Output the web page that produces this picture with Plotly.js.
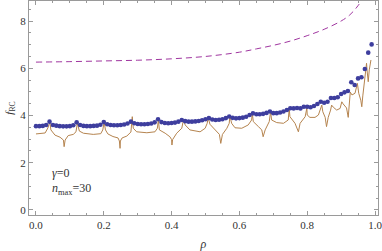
<!DOCTYPE html>
<html>
<head>
<meta charset="utf-8">
<script src="https://cdn.plot.ly/plotly-3.0.1.min.js"></script>
<style>html,body{margin:0;padding:0;background:#fff;}#plot{width:382px;height:251px;}</style>
</head>
<body>
<div id="plot"></div>
<script>
// Blue dots: rho = 0.00 ... 0.99
const dotRho = Array.from({length: 100}, (_, i) => +(i / 100).toFixed(2));
const dotF = [
  3.55,3.55,3.56,3.60,3.74,3.60,3.57,3.55,3.54,3.54,
  3.55,3.59,3.71,3.60,3.56,3.55,3.55,3.56,3.57,3.61,
  3.72,3.63,3.60,3.59,3.59,3.60,3.62,3.66,3.74,3.67,
  3.64,3.63,3.63,3.64,3.66,3.71,3.84,3.72,3.68,3.67,
  3.68,3.70,3.74,3.81,3.76,3.74,3.74,3.75,3.77,3.80,
  3.84,3.89,3.83,3.81,3.82,3.84,3.89,3.96,3.90,3.88,
  3.89,3.91,3.95,4.02,4.09,4.05,4.05,4.07,4.11,4.17,
  4.10,4.10,4.13,4.17,4.23,4.31,4.30,4.32,4.30,4.37,
  4.37,4.35,4.40,4.49,4.58,4.54,4.58,4.74,4.74,4.77,
  4.91,4.98,5.04,5.41,5.29,5.57,5.62,5.97,6.66,7.01
];

// Brown curve
const lineRho = [
  0.000,0.027,0.035,0.041,
  0.044,0.056,0.071,0.081,0.083,0.086,0.095,0.110,0.118,0.122,
  0.128,0.140,0.169,0.191,0.197,0.201,
  0.205,0.212,0.227,0.242,0.246,0.248,0.249,0.254,0.268,0.280,0.284,
  0.287,0.297,0.327,0.351,0.358,0.361,
  0.364,0.381,0.395,0.400,0.401,0.403,0.415,0.430,0.435,
  0.440,0.454,0.484,0.499,0.505,0.508,
  0.513,0.528,0.541,0.545,0.550,0.563,0.570,0.572,
  0.577,0.587,0.607,0.626,0.636,0.638,
  0.641,0.656,0.666,0.670,0.676,0.688,0.692,
  0.695,0.710,0.730,0.744,0.747,
  0.749,0.764,0.774,0.779,0.794,0.799,
  0.800,0.808,0.823,0.833,0.840,0.843,
  0.846,0.853,0.857,0.862,0.869,0.872,
  0.877,0.887,0.897,0.902,
  0.906,0.916,0.921,0.924,0.927,
  0.932,0.941,0.948,
  0.952,0.958,0.961,0.964,0.970,0.975,
  0.977,0.980,0.983,0.988
];
const lineF = [
  3.22,3.26,3.47,3.72,
  3.39,3.17,3.08,2.96,2.68,2.96,3.15,3.20,3.31,3.67,
  3.34,3.25,3.20,3.23,3.39,3.71,
  3.39,3.22,3.11,3.05,2.92,2.61,2.92,3.05,3.13,3.30,3.95,
  3.46,3.31,3.27,3.31,3.46,3.81,
  3.39,3.25,3.10,2.98,2.75,2.98,3.25,3.46,3.81,
  3.60,3.39,3.31,3.46,3.67,3.91,
  3.63,3.39,3.20,2.82,3.20,3.46,3.67,3.99,
  3.67,3.48,3.46,3.60,3.81,4.09,
  3.74,3.53,3.39,3.10,3.39,3.74,4.16,
  3.81,3.70,3.67,3.81,4.30,
  3.95,3.67,3.31,3.67,3.95,4.32,
  4.02,3.92,3.92,4.02,4.30,4.44,
  4.16,3.92,3.53,3.92,4.23,4.44,
  4.35,4.23,4.30,4.58,
  4.49,4.32,3.92,4.49,4.99,
  4.87,4.94,5.36,
  4.94,4.65,4.37,4.83,5.50,6.21,
  5.84,5.43,5.93,6.35
];

// Dashed curve
const dashRho = [0,0.1,0.2,0.3,0.4,0.5,0.6,0.65,0.7,0.75,0.8,0.85,0.9,0.925,0.95,0.97];
const dashF = [6.26,6.28,6.31,6.34,6.40,6.50,6.68,6.82,6.97,7.15,7.38,7.65,8.00,8.25,8.65,9.10];

const xTickVals = [0,0.2,0.4,0.6,0.8,1.0];
const xTickText = ['0.0','0.2','0.4','0.6','0.8','1.0'];
const yTickVals = [0,2,4,6,8];
const yTickText = ['0','2','4','6','8'];

const serif = 'Liberation Serif, Times New Roman, serif';
const frame = '#9a9a9a';

const traces = [
  {x: lineRho, y: lineF, mode: 'lines', line: {color: '#b5844f', width: 1}, hoverinfo: 'skip'},
  {x: dotRho, y: dotF, mode: 'markers', marker: {color: '#3e3e9e', size: 4.6}, hoverinfo: 'skip'},
  {x: dashRho, y: dashF, mode: 'lines', line: {color: '#a036a0', width: 1, dash: '6px,4px', shape: 'spline'}, hoverinfo: 'skip'}
];

const axisCommon = {
  showline: true, linecolor: frame, linewidth: 1, mirror: 'allticks',
  ticks: 'inside', ticklen: 4, tickcolor: frame, tickwidth: 1,
  showgrid: false, zeroline: false, ticklabeloverflow: 'allow',
  tickfont: {family: serif, size: 11, color: '#333'}
};

const layout = {
  width: 382, height: 251,
  margin: {l: 29, r: 4, t: 1, b: 36},
  paper_bgcolor: '#fff', plot_bgcolor: '#fff',
  showlegend: false,
  xaxis: Object.assign({}, axisCommon, {
    range: [-0.0206, 1.0088],
    tickmode: 'array', tickvals: xTickVals, ticktext: xTickText,
    minor: {dtick: 0.05, tick0: 0, ticklen: 2, tickcolor: frame, ticks: 'inside'},
    title: {text: '<i>ρ</i>', font: {family: serif, size: 12, color: '#333'}, standoff: 10}
  }),
  yaxis: Object.assign({}, axisCommon, {
    range: [-0.212, 8.847],
    tickmode: 'array', tickvals: yTickVals, ticktext: yTickText,
    minor: {dtick: 0.5, tick0: 0, ticklen: 2, tickcolor: frame, ticks: 'inside'},
    title: {text: '<i>f</i><sub>RC</sub>', font: {family: serif, size: 11, color: '#333'}, standoff: 4}
  }),
  annotations: [
    {x: 0.041, y: 1.55, xref: 'x', yref: 'y', xanchor: 'left', yanchor: 'middle', showarrow: false,
     text: '<i>γ</i>=0', font: {family: serif, size: 12, color: '#333'}},
    {x: 0.041, y: 0.88, xref: 'x', yref: 'y', xanchor: 'left', yanchor: 'middle', showarrow: false,
     text: '<i>n</i><sub>max</sub>=30', font: {family: serif, size: 12, color: '#333'}}
  ]
};

Plotly.newPlot('plot', traces, layout, {staticPlot: true, displayModeBar: false});
</script>
</body>
</html>
